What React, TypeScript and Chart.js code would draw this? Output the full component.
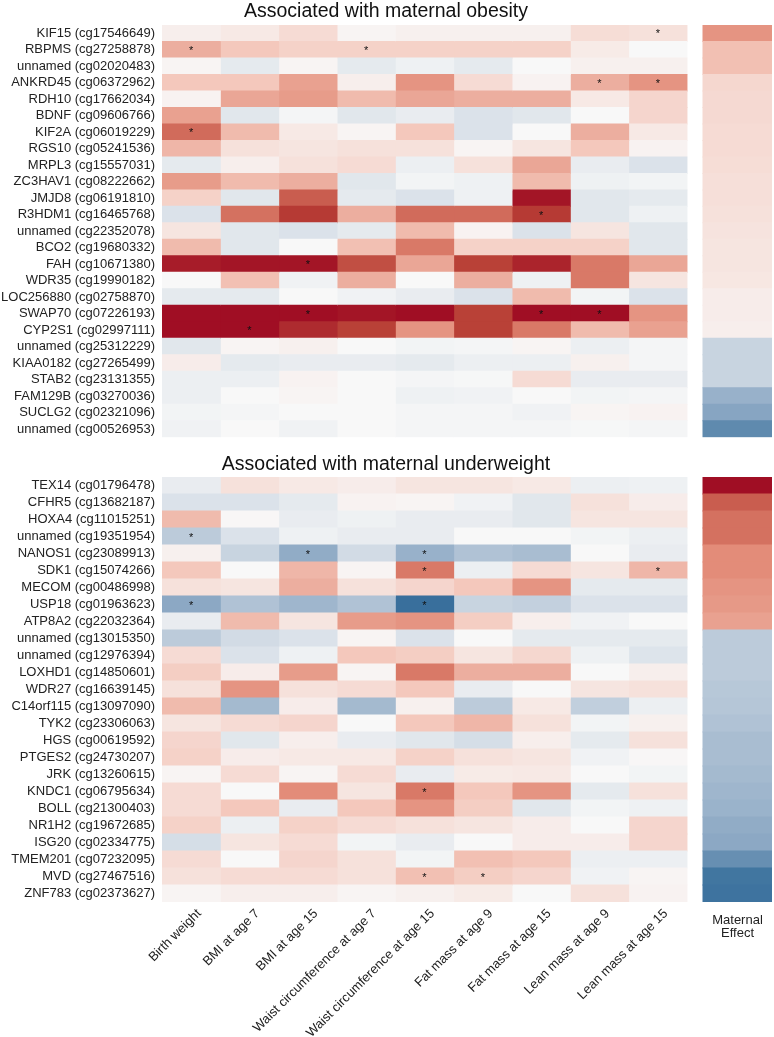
import React, { useEffect, useRef } from 'react';
import { Chart, registerables } from 'chart.js';

Chart.register(...registerables);

const FONT = '"Liberation Sans", Arial, Helvetica, sans-serif';

const columns = [
  'Birth weight',
  'BMI at age 7',
  'BMI at age 15',
  'Waist circumference at age 7',
  'Waist circumference at age 15',
  'Fat mass at age 9',
  'Fat mass at age 15',
  'Lean mass at age 9',
  'Lean mass at age 15',
];

const obesityTitle = 'Associated with maternal obesity';
const underweightTitle = 'Associated with maternal underweight';
const maternalLabel = ['Maternal', 'Effect'];

const obesityGenes = [
  'KIF15 (cg17546649)', 'RBPMS (cg27258878)', 'unnamed (cg02020483)', 'ANKRD45 (cg06372962)',
  'RDH10 (cg17662034)', 'BDNF (cg09606766)', 'KIF2A (cg06019229)', 'RGS10 (cg05241536)',
  'MRPL3 (cg15557031)', 'ZC3HAV1 (cg08222662)', 'JMJD8 (cg06191810)', 'R3HDM1 (cg16465768)',
  'unnamed (cg22352078)', 'BCO2 (cg19680332)', 'FAH (cg10671380)', 'WDR35 (cg19990182)',
  'LOC256880 (cg02758870)', 'SWAP70 (cg07226193)', 'CYP2S1 (cg02997111)', 'unnamed (cg25312229)',
  'KIAA0182 (cg27265499)', 'STAB2 (cg23131355)', 'FAM129B (cg03270036)', 'SUCLG2 (cg02321096)',
  'unnamed (cg00526953)',
];

// columns: BW, BMI7, BMI15, WC7, WC15, FM9, FM15, LM9, LM15
const obesityValues = [
  [0.05, 0.08, 0.15, 0.02, 0.04, 0.04, 0.04, 0.14, 0.12],
  [0.35, 0.25, 0.2, 0.2, 0.2, 0.2, 0.2, 0.07, 0.0],
  [0.02, -0.1, 0.02, -0.1, -0.05, -0.1, 0.0, 0.04, 0.04],
  [0.25, 0.25, 0.4, 0.05, 0.45, 0.15, 0.03, 0.35, 0.45],
  [0.03, 0.38, 0.42, 0.3, 0.38, 0.35, 0.35, 0.08, 0.18],
  [0.4, -0.12, -0.02, -0.12, -0.08, -0.15, -0.12, 0.0, 0.18],
  [0.6, 0.3, 0.08, 0.02, 0.25, -0.15, 0.0, 0.35, 0.08],
  [0.32, 0.12, 0.1, 0.12, 0.12, 0.02, 0.1, 0.25, 0.03],
  [-0.1, 0.05, 0.12, 0.15, -0.06, 0.12, 0.38, -0.08, -0.15],
  [0.42, 0.3, 0.35, -0.12, -0.03, -0.05, 0.3, -0.05, -0.03],
  [0.2, -0.12, 0.65, -0.1, -0.15, -0.05, 0.95, -0.12, -0.1],
  [-0.15, 0.58, 0.78, 0.35, 0.6, 0.6, 0.78, -0.12, -0.05],
  [0.1, -0.12, -0.15, -0.1, 0.3, 0.03, -0.15, 0.1, -0.12],
  [0.3, -0.12, 0.0, 0.28, 0.55, 0.2, 0.2, 0.2, -0.12],
  [0.92, 0.95, 0.95, 0.7, 0.38, 0.75, 0.88, 0.55, 0.38],
  [0.0, 0.28, -0.04, 0.35, 0.0, 0.35, -0.05, 0.55, 0.1],
  [-0.1, -0.1, 0.0, -0.04, -0.08, -0.15, 0.3, -0.03, -0.15],
  [0.98, 0.98, 0.98, 0.95, 0.98, 0.75, 0.98, 0.98, 0.45],
  [0.98, 0.98, 0.85, 0.75, 0.45, 0.75, 0.55, 0.3, 0.4],
  [-0.12, 0.02, 0.04, 0.0, -0.03, -0.02, 0.02, -0.06, -0.02],
  [0.06, -0.1, -0.08, -0.08, -0.1, -0.06, -0.06, 0.04, -0.02],
  [-0.06, -0.06, 0.03, 0.0, -0.02, -0.01, 0.15, -0.08, -0.08],
  [-0.06, 0.0, 0.02, 0.0, -0.05, -0.04, 0.0, -0.03, -0.02],
  [-0.03, -0.02, 0.0, 0.0, -0.02, -0.02, -0.04, 0.02, 0.03],
  [-0.04, 0.0, -0.04, 0.0, -0.02, -0.02, -0.02, -0.01, -0.02],
];

const obesityMaternal = [
  0.45, 0.28, 0.28, 0.17, 0.16, 0.16, 0.15, 0.15, 0.14, 0.13, 0.13, 0.12, 0.11,
  0.1, 0.1, 0.09, 0.06, 0.06, 0.05, -0.25, -0.25, -0.25, -0.45, -0.52, -0.68,
];

// [row, column]
const obesityStars = [
  [0, 8], [1, 0], [1, 3], [3, 7], [3, 8], [6, 0], [11, 6], [14, 2], [17, 2], [17, 6], [17, 7], [18, 1],
];

const underweightGenes = [
  'TEX14 (cg01796478)', 'CFHR5 (cg13682187)', 'HOXA4 (cg11015251)', 'unnamed (cg19351954)',
  'NANOS1 (cg23089913)', 'SDK1 (cg15074266)', 'MECOM (cg00486998)', 'USP18 (cg01963623)',
  'ATP8A2 (cg22032364)', 'unnamed (cg13015350)', 'unnamed (cg12976394)', 'LOXHD1 (cg14850601)',
  'WDR27 (cg16639145)', 'C14orf115 (cg13097090)', 'TYK2 (cg23306063)', 'HGS (cg00619592)',
  'PTGES2 (cg24730207)', 'JRK (cg13260615)', 'KNDC1 (cg06795634)', 'BOLL (cg21300403)',
  'NR1H2 (cg19672685)', 'ISG20 (cg02334775)', 'TMEM201 (cg07232095)', 'MVD (cg27467516)',
  'ZNF783 (cg02373627)',
];

const underweightValues = [
  [-0.08, 0.12, 0.08, 0.06, 0.1, 0.1, 0.08, -0.06, -0.05],
  [-0.15, -0.15, -0.1, 0.03, 0.02, -0.04, -0.12, 0.12, 0.06],
  [0.3, 0.01, -0.08, -0.05, -0.08, -0.08, -0.12, 0.1, 0.1],
  [-0.3, -0.15, -0.05, -0.08, -0.08, 0.0, 0.0, -0.03, -0.06],
  [0.04, -0.25, -0.48, -0.2, -0.45, -0.35, -0.38, 0.0, -0.08],
  [0.25, 0.0, 0.32, 0.02, 0.55, -0.06, 0.15, 0.1, 0.32],
  [0.12, 0.1, 0.35, 0.12, 0.18, 0.25, 0.45, -0.1, -0.1],
  [-0.5, -0.35, -0.42, -0.35, -0.85, -0.25, -0.27, -0.15, -0.15],
  [-0.08, 0.3, 0.1, 0.42, 0.45, 0.22, 0.05, -0.04, 0.0],
  [-0.3, -0.2, -0.15, 0.02, -0.15, 0.0, -0.1, -0.1, -0.1],
  [0.15, -0.15, -0.05, 0.25, 0.22, 0.1, 0.17, -0.05, -0.14],
  [0.22, 0.06, 0.42, 0.02, 0.55, 0.35, 0.35, 0.0, 0.05],
  [0.12, 0.45, 0.12, 0.15, 0.25, -0.08, 0.0, 0.1, 0.12],
  [0.3, -0.4, 0.06, -0.4, 0.04, -0.3, 0.08, -0.28, -0.06],
  [0.1, 0.15, 0.18, 0.0, 0.25, 0.32, 0.12, -0.03, 0.04],
  [0.18, -0.12, 0.05, -0.08, -0.12, -0.18, 0.05, -0.1, 0.12],
  [0.2, 0.06, 0.08, 0.08, 0.2, 0.12, 0.1, -0.04, 0.01],
  [0.02, 0.15, 0.02, 0.15, -0.08, 0.07, 0.08, 0.0, -0.03],
  [0.15, 0.0, 0.48, 0.1, 0.55, 0.25, 0.45, -0.1, 0.12],
  [0.15, 0.25, -0.08, 0.25, 0.45, 0.22, -0.12, -0.03, -0.05],
  [0.2, -0.06, 0.2, 0.15, 0.12, 0.1, 0.06, 0.0, 0.18],
  [-0.18, 0.1, 0.15, -0.03, -0.08, 0.0, 0.06, 0.06, 0.18],
  [0.15, 0.0, 0.18, 0.12, -0.03, 0.28, 0.25, -0.06, -0.06],
  [0.12, 0.15, 0.15, 0.12, 0.28, 0.22, 0.18, -0.04, 0.02],
  [0.02, 0.05, 0.05, 0.02, 0.04, 0.07, 0.0, 0.12, 0.03],
];

const underweightMaternal = [
  0.98, 0.65, 0.58, 0.58, 0.48, 0.48, 0.45, 0.43, 0.4, -0.3, -0.3, -0.3, -0.32,
  -0.33, -0.35, -0.38, -0.38, -0.4, -0.42, -0.44, -0.48, -0.5, -0.65, -0.8, -0.82,
];

const underweightStars = [
  [3, 0], [4, 2], [4, 4], [5, 4], [5, 8], [7, 0], [7, 4], [18, 4], [23, 4], [23, 5],
];

// position of the "Maternal Effect" column on the x value axis
const MAT_X0 = 9.275;
const MAT_X1 = 10.458;

const colorStops: [number, number, number, number][] = [
  [-1, 33, 90, 145],
  [-0.8, 65, 118, 160],
  [-0.5, 140, 168, 196],
  [-0.25, 200, 212, 224],
  [0, 248, 248, 248],
  [0.25, 244, 200, 188],
  [0.5, 225, 135, 115],
  [0.75, 185, 65, 55],
  [1, 158, 10, 34],
];

function colorFor(v: number): string {
  const x = Math.max(-1, Math.min(1, v));
  for (let i = 0; i < colorStops.length - 1; i++) {
    const a = colorStops[i];
    const b = colorStops[i + 1];
    if (x >= a[0] && x <= b[0]) {
      const t = (x - a[0]) / (b[0] - a[0]);
      const r = Math.round(a[1] + (b[1] - a[1]) * t);
      const g = Math.round(a[2] + (b[2] - a[2]) * t);
      const bl = Math.round(a[3] + (b[3] - a[3]) * t);
      return `rgb(${r},${g},${bl})`;
    }
  }
  return 'rgb(248,248,248)';
}

function buildConfig(
  title: string,
  genes: string[],
  values: number[][],
  maternal: number[],
  stars: number[][],
  showX: boolean,
  titlePad: { top: number; bottom: number },
  bottomPad: number,
): any {
  const datasets: any[] = columns.map((_, c) => ({
    data: genes.map(() => [c, c + 1]),
    backgroundColor: values.map((row) => colorFor(row[c])),
    borderWidth: 0,
    inflateAmount: 0.5,
    grouped: false,
    barPercentage: 1,
    categoryPercentage: 1,
  }));
  datasets.push({
    data: genes.map(() => [MAT_X0, MAT_X1]),
    backgroundColor: maternal.map((v) => colorFor(v)),
    borderWidth: 0,
    inflateAmount: 0.5,
    grouped: false,
    barPercentage: 1,
    categoryPercentage: 1,
  });

  const starPlugin = {
    id: 'stars',
    afterDatasetsDraw(chart: any) {
      const ctx = chart.ctx;
      const xs = chart.scales.x;
      const ys = chart.scales.y;
      ctx.save();
      ctx.fillStyle = '#111';
      ctx.font = `11px ${FONT}`;
      ctx.textAlign = 'center';
      ctx.textBaseline = 'middle';
      stars.forEach(([r, c]) => {
        ctx.fillText('*', xs.getPixelForValue(c + 0.5), ys.getPixelForValue(r) + 1);
      });
      if (showX) {
        ctx.fillStyle = '#222';
        ctx.font = `13px ${FONT}`;
        ctx.textBaseline = 'alphabetic';
        const cx = xs.getPixelForValue((MAT_X0 + MAT_X1) / 2);
        const by = chart.chartArea.bottom;
        ctx.fillText(maternalLabel[0], cx, by + 22);
        ctx.fillText(maternalLabel[1], cx, by + 35);
      }
      ctx.restore();
    },
  };

  return {
    type: 'bar',
    data: { labels: genes, datasets },
    plugins: [starPlugin],
    options: {
      animation: false,
      responsive: false,
      indexAxis: 'y',
      layout: { padding: { left: 0, right: 2, top: 0, bottom: bottomPad } },
      plugins: {
        legend: { display: false },
        tooltip: { enabled: false },
        title: {
          display: true,
          text: title,
          color: '#111',
          font: { size: 19.5, family: FONT, weight: 'normal', lineHeight: 1.2 },
          padding: titlePad,
        },
      },
      scales: {
        y: {
          type: 'category',
          grid: { display: false, drawTicks: false },
          border: { display: false },
          ticks: { color: '#222', font: { size: 13, family: FONT }, padding: 7, autoSkip: false },
          afterFit: (s: any) => {
            s.width = 162;
          },
        },
        x: {
          type: 'linear',
          min: 0,
          max: MAT_X1,
          display: showX,
          grid: { display: false, drawTicks: false },
          border: { display: false },
          afterBuildTicks: (s: any) => {
            s.ticks = columns.map((_, i) => ({ value: i + 0.5 }));
          },
          ticks: {
            color: '#222',
            font: { size: 13, family: FONT },
            autoSkip: false,
            maxRotation: 45,
            minRotation: 45,
            padding: 4,
            labelOffset: 8,
            callback: (_v: any, i: number) => columns[i],
          },
          afterFit: (s: any) => {
            if (showX) s.height = 135;
          },
        },
      },
    },
  };
}

export default function App() {
  const topRef = useRef<HTMLCanvasElement | null>(null);
  const botRef = useRef<HTMLCanvasElement | null>(null);

  useEffect(() => {
    Chart.defaults.font.family = FONT;
    const top = new Chart(
      topRef.current as HTMLCanvasElement,
      buildConfig(obesityTitle, obesityGenes, obesityValues, obesityMaternal, obesityStars, false, { top: 0, bottom: 1.6 }, 2),
    );
    const bot = new Chart(
      botRef.current as HTMLCanvasElement,
      buildConfig(underweightTitle, underweightGenes, underweightValues, underweightMaternal, underweightStars, true, { top: 1, bottom: 0.6 }, 0),
    );
    return () => {
      top.destroy();
      bot.destroy();
    };
  }, []);

  return (
    <div style={{ position: 'absolute', left: 0, top: 0, width: 774, height: 1037, background: '#fff' }}>
      <canvas ref={topRef} width={774} height={452} style={{ position: 'absolute', left: 0, top: 0 }} />
      <canvas ref={botRef} width={774} height={585} style={{ position: 'absolute', left: 0, top: 452 }} />
    </div>
  );
}
